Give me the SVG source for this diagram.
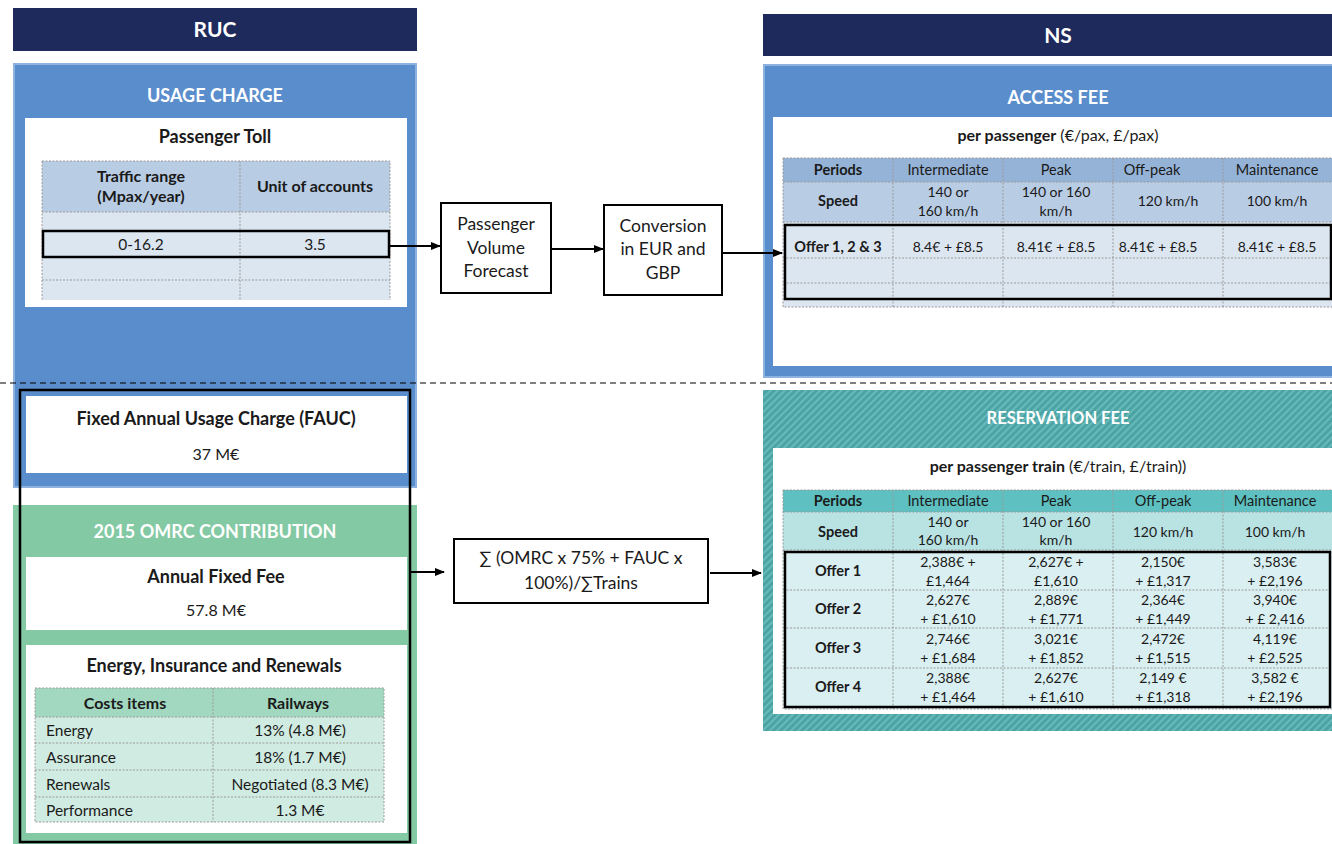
<svg xmlns="http://www.w3.org/2000/svg" width="1332" height="844" viewBox="0 0 1332 844">
<defs>
<style>
text { font-family: Lato, "Liberation Sans", sans-serif; fill: #1a1a1a; }
.hdr { fill: #fff; font-weight: bold; font-size: 21px; text-anchor: middle; }
.sec { fill: #fff; font-weight: bold; font-size: 18px; text-anchor: middle; }
.ttl { font-weight: bold; font-size: 18px; text-anchor: middle; }
.v { font-size: 16px; text-anchor: middle; }
.p { font-size: 17.5px; text-anchor: middle; }
.c { font-size: 14px; text-anchor: middle; }
.cb { font-size: 14.5px; text-anchor: middle; font-weight: bold; }
.lc { font-size: 15.5px; text-anchor: middle; }
.lcb { font-size: 16px; text-anchor: middle; font-weight: bold; }
.l { font-size: 15.5px; }
.grid { stroke: #9a9a9a; stroke-width: 1; stroke-dasharray: 2 1.5; fill: none; }
.hl { fill: none; stroke: #000; stroke-width: 2.5; }
.box { fill: #fff; stroke: #000; stroke-width: 2; }
.conn { stroke: #000; stroke-width: 2; fill: none; marker-end: url(#ah); }
.navy { fill: #1f2a5c; }
.blue { fill: #5a8dcc; stroke: #8db2df; stroke-width: 2; }
.wh { fill: #fff; }
</style>
<marker id="ah" markerWidth="10" markerHeight="10" refX="9" refY="5" orient="auto" markerUnits="userSpaceOnUse">
<path d="M0,1 L10,5 L0,9 Z" fill="#000"/>
</marker>
<pattern id="hatch" width="5" height="5" patternUnits="userSpaceOnUse" patternTransform="rotate(45)">
<rect width="5" height="5" fill="#4ba3a4"/>
<rect width="2" height="5" fill="#68baba"/>
</pattern>
</defs>
<rect width="1332" height="844" fill="#fff"/>

<!-- RUC header -->
<g id="ruc-header">
<rect class="navy" x="13" y="8" width="404" height="43"/>
<text class="hdr" x="215" y="37">RUC</text>
</g>

<!-- NS header -->
<g id="ns-header">
<rect class="navy" x="763" y="14" width="575" height="42"/>
<text class="hdr" x="1058" y="43">NS</text>
</g>

<!-- Usage charge panel -->
<g id="usage-charge">
<rect class="blue" x="14" y="64" width="402" height="423"/>
<text class="sec" x="215" y="102">USAGE CHARGE</text>
<rect class="wh" x="25" y="118" width="382" height="189"/>
<text class="ttl" x="215" y="143">Passenger Toll</text>
<rect x="42" y="161" width="348" height="51" fill="#b8cce4"/>
<rect x="42" y="212" width="348" height="88" fill="#dce6f1"/>
<path class="grid" d="M42,161 H390 V300 M42,161 V300 M42,212 H390 M42,231 H390 M42,257 H390 M42,280 H390 M240,161 V300"/>
<text class="lcb" x="141" y="182">Traffic range</text>
<text class="lcb" x="141" y="202">(Mpax/year)</text>
<text class="lcb" x="315" y="192">Unit of accounts</text>
<text class="lc" x="141" y="250">0-16.2</text>
<text class="lc" x="315" y="250">3.5</text>
<rect class="hl" x="43" y="231" width="346" height="26"/>
<rect class="wh" x="26" y="396" width="381" height="77"/>
<text class="ttl" x="216" y="425">Fixed Annual Usage Charge (FAUC)</text>
<text class="v" x="216" y="460">37 M€</text>
</g>

<!-- OMRC panel -->
<g id="omrc-contribution">
<rect x="13" y="505" width="404" height="345" fill="#83c9a3"/>
<text class="sec" x="215" y="538">2015 OMRC CONTRIBUTION</text>
<rect class="wh" x="26" y="557" width="381" height="73"/>
<text class="ttl" x="216" y="583">Annual Fixed Fee</text>
<text class="v" x="216" y="616">57.8 M€</text>
<rect class="wh" x="26" y="645" width="381" height="188"/>
<text class="ttl" x="214" y="672">Energy, Insurance and Renewals</text>
<rect x="35" y="688" width="349" height="29" fill="#a2d7c0"/>
<rect x="35" y="717" width="349" height="105" fill="#d0ebe1"/>
<path class="grid" d="M35,688 H384 V822 H35 Z M35,717 H384 M35,743 H384 M35,770 H384 M35,797 H384 M213,688 V822"/>
<text class="lcb" x="125" y="709">Costs items</text>
<text class="lcb" x="298" y="709">Railways</text>
<text class="l" x="46" y="736">Energy</text>
<text class="lc" x="300" y="736">13% (4.8 M€)</text>
<text class="l" x="46" y="763">Assurance</text>
<text class="lc" x="300" y="763">18% (1.7 M€)</text>
<text class="l" x="46" y="790">Renewals</text>
<text class="lc" x="300" y="790">Negotiated (8.3 M€)</text>
<text class="l" x="46" y="816">Performance</text>
<text class="lc" x="300" y="816">1.3 M€</text>
</g>

<!-- grouping rectangle -->
<g id="fixed-group">
<rect x="20" y="390" width="390" height="452" fill="none" stroke="#000" stroke-width="2.5"/>
</g>

<!-- Access fee panel -->
<g id="access-fee">
<rect class="blue" x="764" y="65" width="575" height="312"/>
<text class="sec" x="1058" y="104">ACCESS FEE</text>
<rect class="wh" x="773" y="117" width="565" height="249"/>
<text x="1058" y="141" style="font-size:16px;text-anchor:middle"><tspan font-weight="bold">per passenger</tspan> (€/pax, £/pax)</text>
<rect x="783" y="158" width="549" height="24" fill="#95b3d7"/>
<rect x="783" y="182" width="549" height="40" fill="#b8cce4"/>
<rect x="783" y="222" width="549" height="85" fill="#dce6f1"/>
<path class="grid" d="M783,158 H1332 M783,158 V307 H1332 M783,182 H1332 M783,222 H1332 M783,258 H1332 M783,283 H1332 M893,158 V307 M1003,158 V307 M1113,158 V307 M1223,158 V307"/>
<text class="cb" x="838" y="175">Periods</text>
<text class="c" x="948" y="175" style="font-size:14.5px">Intermediate</text>
<text class="c" x="1056" y="175" style="font-size:14.5px">Peak</text>
<text class="c" x="1152" y="175" style="font-size:14.5px">Off-peak</text>
<text class="c" x="1277" y="175" style="font-size:14.5px">Maintenance</text>
<text class="cb" x="838" y="206">Speed</text>
<text class="c" x="948" y="197">140 or</text>
<text class="c" x="948" y="216">160 km/h</text>
<text class="c" x="1056" y="197">140 or 160</text>
<text class="c" x="1056" y="216">km/h</text>
<text class="c" x="1168" y="206">120 km/h</text>
<text class="c" x="1277" y="206">100 km/h</text>
<text class="cb" x="838" y="252">Offer 1, 2 &amp; 3</text>
<text class="c" x="948" y="252">8.4€ + £8.5</text>
<text class="c" x="1056" y="252">8.41€ + £8.5</text>
<text class="c" x="1158" y="252">8.41€ + £8.5</text>
<text class="c" x="1277" y="252">8.41€ + £8.5</text>
<rect class="hl" x="785" y="225" width="546" height="74"/>
</g>

<!-- Reservation fee panel -->
<g id="reservation-fee">
<rect x="763" y="390" width="575" height="341" fill="url(#hatch)"/>
<text class="sec" x="1058" y="424" style="font-size:16.5px">RESERVATION FEE</text>
<rect class="wh" x="773" y="448" width="565" height="266"/>
<text x="1058" y="472" style="font-size:16px;text-anchor:middle"><tspan font-weight="bold">per passenger train</tspan> (€/train, £/train))</text>
<rect x="783" y="490" width="549" height="22" fill="#5ec0c0"/>
<rect x="783" y="512" width="549" height="38" fill="#b9e2e2"/>
<rect x="783" y="550" width="549" height="159" fill="#daeff1"/>
<path class="grid" d="M783,490 H1332 M783,490 V709 H1332 M783,512 H1332 M783,550 H1332 M783,590 H1332 M783,628 H1332 M783,668 H1332 M893,490 V709 M1003,490 V709 M1113,490 V709 M1223,490 V709"/>
<text class="cb" x="838" y="506">Periods</text>
<text class="c" x="948" y="506" style="font-size:14.5px">Intermediate</text>
<text class="c" x="1056" y="506" style="font-size:14.5px">Peak</text>
<text class="c" x="1163" y="506" style="font-size:14.5px">Off-peak</text>
<text class="c" x="1275" y="506" style="font-size:14.5px">Maintenance</text>
<text class="cb" x="838" y="537">Speed</text>
<text class="c" x="948" y="527">140 or</text>
<text class="c" x="948" y="545">160 km/h</text>
<text class="c" x="1056" y="527">140 or 160</text>
<text class="c" x="1056" y="545">km/h</text>
<text class="c" x="1163" y="537">120 km/h</text>
<text class="c" x="1275" y="537">100 km/h</text>

<text class="cb" x="838" y="576">Offer 1</text>
<text class="c" x="948" y="567">2,388€ +</text>
<text class="c" x="948" y="586">£1,464</text>
<text class="c" x="1056" y="567">2,627€ +</text>
<text class="c" x="1056" y="586">£1,610</text>
<text class="c" x="1163" y="567">2,150€</text>
<text class="c" x="1163" y="586">+ £1,317</text>
<text class="c" x="1275" y="567">3,583€</text>
<text class="c" x="1275" y="586">+ £2,196</text>

<text class="cb" x="838" y="614">Offer 2</text>
<text class="c" x="948" y="605">2,627€</text>
<text class="c" x="948" y="624">+ £1,610</text>
<text class="c" x="1056" y="605">2,889€</text>
<text class="c" x="1056" y="624">+ £1,771</text>
<text class="c" x="1163" y="605">2,364€</text>
<text class="c" x="1163" y="624">+ £1,449</text>
<text class="c" x="1275" y="605">3,940€</text>
<text class="c" x="1275" y="624">+ £ 2,416</text>

<text class="cb" x="838" y="653">Offer 3</text>
<text class="c" x="948" y="644">2,746€</text>
<text class="c" x="948" y="663">+ £1,684</text>
<text class="c" x="1056" y="644">3,021€</text>
<text class="c" x="1056" y="663">+ £1,852</text>
<text class="c" x="1163" y="644">2,472€</text>
<text class="c" x="1163" y="663">+ £1,515</text>
<text class="c" x="1275" y="644">4,119€</text>
<text class="c" x="1275" y="663">+ £2,525</text>

<text class="cb" x="838" y="692">Offer 4</text>
<text class="c" x="948" y="683">2,388€</text>
<text class="c" x="948" y="702">+ £1,464</text>
<text class="c" x="1056" y="683">2,627€</text>
<text class="c" x="1056" y="702">+ £1,610</text>
<text class="c" x="1163" y="683">2,149 €</text>
<text class="c" x="1163" y="702">+ £1,318</text>
<text class="c" x="1275" y="683">3,582 €</text>
<text class="c" x="1275" y="702">+ £2,196</text>
<rect class="hl" x="785" y="552" width="545" height="155"/>
</g>

<!-- Process boxes -->
<g id="passenger-volume-forecast">
<rect class="box" x="441" y="203" width="110" height="90"/>
<text class="p" x="496" y="230">Passenger</text>
<text class="p" x="496" y="254">Volume</text>
<text class="p" x="496" y="277">Forecast</text>
</g>
<g id="conversion">
<rect class="box" x="604" y="205" width="118" height="90"/>
<text class="p" x="663" y="232">Conversion</text>
<text class="p" x="663" y="255">in EUR and</text>
<text class="p" x="663" y="279">GBP</text>
</g>
<g id="formula">
<rect class="box" x="454" y="539" width="254" height="64" stroke-width="1.5"/>
<text class="p" x="581" y="564">∑ (OMRC x 75% + FAUC x</text>
<text class="p" x="581" y="589">100%)/∑Trains</text>
</g>

<!-- Connectors -->
<g id="connectors">
<line x1="0" y1="383" x2="1332" y2="383" stroke="#000" stroke-width="1.2" stroke-dasharray="6 4"/>
<line class="conn" x1="389" y1="246" x2="440" y2="246"/>
<line class="conn" x1="551" y1="249" x2="603" y2="249"/>
<line class="conn" x1="722" y1="253" x2="782" y2="253"/>
<line class="conn" x1="411" y1="572" x2="444" y2="572"/>
<line class="conn" x1="710" y1="573" x2="761" y2="573"/>
</g>
</svg>
